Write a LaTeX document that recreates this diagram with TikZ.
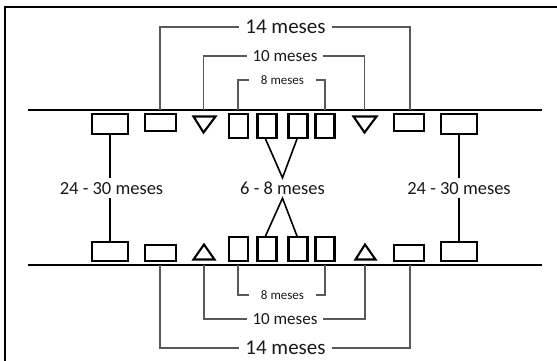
\documentclass[tikz,border=0pt]{standalone}
\usepackage{fontspec}
\setmainfont{Carlito}
\usetikzlibrary{calc}
\begin{document}
\begin{tikzpicture}[x=1pt,y=-1pt,
  tooth/.style={draw=black,line width=2.4pt,inner sep=0pt,fill=white},
  bigtooth/.style={tooth,minimum width=35.5pt,minimum height=19.5pt},
  smalltooth/.style={tooth,minimum width=30.5pt,minimum height=16.5pt},
  sqtooth/.style={tooth,minimum width=19pt,minimum height=23.5pt},
  tri/.style={draw=black,line width=2.1pt,line join=miter},
  gum/.style={line width=2pt},
  brk/.style={draw=black!65,line width=1.1pt},
  conn/.style={line width=2.2pt},
  vconn/.style={line width=1.6pt},
  lbl/.style={font=\fontsize{18.5}{20}\selectfont,text=black!90,inner xsep=2pt,inner ysep=4pt,text height=12pt,text depth=0pt},
  lbla/.style={font=\fontsize{21}{23}\selectfont,text=black!90,inner xsep=6pt,inner ysep=0pt,text height=13pt,text depth=0pt},
  lblb/.style={font=\fontsize{17}{19}\selectfont,text=black!90,inner xsep=5pt,inner ysep=0pt,text height=11pt,text depth=0pt},
  lblc/.style={font=\fontsize{13}{15}\selectfont,text=black!90,inner xsep=12pt,inner ysep=0pt,text height=8.5pt,text depth=0pt}
]
\useasboundingbox (0,0) rectangle (557,361);
% frame
\draw[line width=2.4pt] (5,366) -- (5,7) -- (562,7);
% gum lines
\draw[gum] (28,110) -- (542,110);
\draw[gum] (28,265) -- (542,265);
% upper teeth
\node[bigtooth] (ub1) at (110,124) {};
\node[smalltooth] (us1) at (160.5,122.5) {};
\node[sqtooth] (uq1) at (238.5,126) {};
\node[sqtooth] (uq2) at (267,126) {};
\node[sqtooth] (uq3) at (298,126) {};
\node[sqtooth] (uq4) at (325,126) {};
\node[smalltooth] (us2) at (409,122.5) {};
\node[bigtooth] (ub2) at (459,124) {};
\draw[tri] (193.5,116.5) -- (215.5,116.5) -- (203.5,132.5) -- cycle;
\draw[tri] (353.5,116.5) -- (376.5,116.5) -- (364.5,132.5) -- cycle;
% lower teeth
\node[bigtooth] (lb1) at (110,251.5) {};
\node[smalltooth] (ls1) at (160.5,253) {};
\node[sqtooth] (lq1) at (238.5,249) {};
\node[sqtooth] (lq2) at (267,249) {};
\node[sqtooth] (lq3) at (298,249) {};
\node[sqtooth] (lq4) at (325,249) {};
\node[smalltooth] (ls2) at (409,253) {};
\node[bigtooth] (lb2) at (459,251.5) {};
\draw[tri] (193.5,259.5) -- (214.5,259.5) -- (204,244.5) -- cycle;
\draw[tri] (355.5,259.5) -- (375.5,259.5) -- (365,244.5) -- cycle;
% middle labels and connectors
\node[lbl] (left) at (111.5,188) {24 - 30 meses};
\node[lbl] (mid) at (282.5,188) {6 - 8 meses};
\node[lbl] (right) at (459,188) {24 - 30 meses};
\draw[conn] (ub1.south) -- (ub1.south |- left.north);
\draw[conn] (lb1.north) -- (lb1.north |- left.south);
\draw[conn] (ub2.south) -- (ub2.south |- right.north);
\draw[conn] (lb2.north) -- (lb2.north |- right.south);
\draw[vconn] ($(uq2.south)+(-1.5,0)$) -- (mid.north) -- ($(uq3.south)+(-1,0)$);
\draw[vconn] ($(lq2.north)+(-1.5,0)$) -- (mid.south) -- ($(lq3.north)+(-1,0)$);
% upper brackets
\coordinate (ua14) at (160,110); \coordinate (ub14) at (410,110);
\coordinate (ua10) at (203.5,110); \coordinate (ub10) at (364.5,110);
\coordinate (ua8) at (238,110); \coordinate (ub8) at (325,110);
\node[lbla] (ut14) at (285.5,27) {14 meses};
\node[lblb] (ut10) at (285,56) {10 meses};
\node[lblc] (ut8) at (282.5,80) {8 meses};
\draw[brk] (ua14) |- (ut14.west); \draw[brk] (ut14.east) -| (ub14);
\draw[brk] (ua10) |- (ut10.west); \draw[brk] (ut10.east) -| (ub10);
\draw[brk] (ua8) |- (ut8.west); \draw[brk] (ut8.east) -| (ub8);
% lower brackets
\coordinate (la14) at (160,265); \coordinate (lb14) at (410,265);
\coordinate (la10) at (204,265); \coordinate (lb10) at (365,265);
\coordinate (la8) at (238,265); \coordinate (lb8) at (325,265);
\node[lbla] (lt14) at (285.5,348) {14 meses};
\node[lblb] (lt10) at (285,319) {10 meses};
\node[lblc] (lt8) at (282.5,295) {8 meses};
\draw[brk] (la14) |- (lt14.west); \draw[brk] (lt14.east) -| (lb14);
\draw[brk] (la10) |- (lt10.west); \draw[brk] (lt10.east) -| (lb10);
\draw[brk] (la8) |- (lt8.west); \draw[brk] (lt8.east) -| (lb8);
\end{tikzpicture}
\end{document}
